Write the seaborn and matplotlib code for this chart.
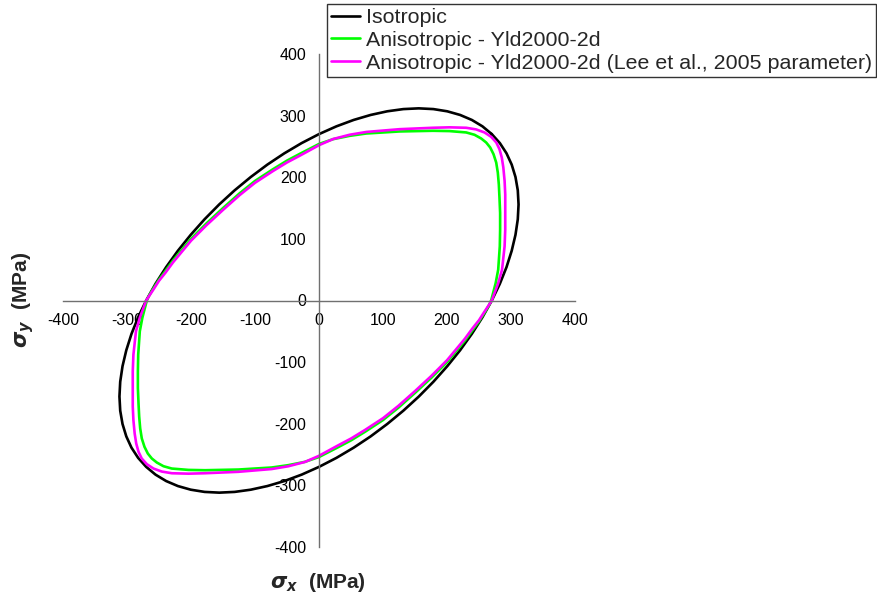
import matplotlib
matplotlib.use("Agg")
import matplotlib.pyplot as plt
import seaborn as sns

# Yield loci in the (sigma_x, sigma_y) plane, MPa
iso_x = [270, 255.4, 238.8, 220.5, 200.4, 178.8, 155.8, 131.8, 106.6, 80.7, 54.2, 27.2, 0,
         -27.2, -54.2, -80.7, -106.6, -131.8, -155.9, -178.8, -200.4, -220.5, -238.8, -255.4,
         -270, -282.6, -293.0, -301.1, -307.0, -310.6, -311.8, -310.6, -307.0, -301.1, -293.0,
         -282.6, -270, -255.4, -238.8, -220.5, -200.4, -178.8, -155.8, -131.8, -106.6, -80.7,
         -54.2, -27.2, 0, 27.2, 54.2, 80.7, 106.6, 131.8, 155.9, 178.8, 200.4, 220.5, 238.8,
         255.4, 270, 282.6, 293.0, 301.1, 307.0, 310.6, 311.8, 310.6, 307.0, 301.1, 293.0,
         282.6, 270]
iso_y = [270, 282.6, 293.0, 301.1, 307.0, 310.6, 311.8, 310.6, 307.0, 301.1, 293.0, 282.6, 270,
         255.4, 238.8, 220.5, 200.4, 178.8, 155.9, 131.8, 106.6, 80.7, 54.2, 27.2,
         0, -27.2, -54.2, -80.7, -106.6, -131.8, -155.8, -178.8, -200.4, -220.5, -238.8,
         -255.4, -270, -282.6, -293.0, -301.1, -307.0, -310.6, -311.8, -310.6, -307.0, -301.1,
         -293.0, -282.6, -270, -255.4, -238.8, -220.5, -200.4, -178.8, -155.9, -131.8, -106.6,
         -80.7, -54.2, -27.2, 0, 27.2, 54.2, 80.7, 106.6, 131.8, 155.8, 178.8, 200.4, 220.5,
         238.8, 255.4, 270]

yld_x = [269, 276, 280, 282.5, 283, 283, 282, 281, 279.4, 276.9, 272.7, 267.5, 261.2, 253.4,
         243, 230, 204, 178, 126, 74, 48, 22, 0, -30, -50, -72, -100, -124, -150, -176, -200,
         -228, -240, -250, -258, -265,
         -269, -276, -280, -282.5, -283, -283, -282, -281, -279.4, -276.9, -272.7, -267.5,
         -261.2, -253.4, -243, -230, -204, -178, -126, -74, -48, -22, 0, 30, 50, 72, 100,
         124, 150, 176, 200, 228, 240, 250, 258, 265, 269]
yld_y = [0, 28, 50, 88, 115, 142, 167, 188, 207.5, 223.8, 237.4, 248.3, 256.4, 262.9,
         268.9, 272.7, 274.9, 275.4, 274.3, 271, 267.2, 261.8, 254, 238, 227, 213, 194, 174,
         150, 125, 100, 65, 48, 34, 21, 9,
         0, -28, -50, -88, -115, -142, -167, -188, -207.5, -223.8, -237.4, -248.3, -256.4,
         -262.9, -268.9, -272.7, -274.9, -275.4, -274.3, -271, -267.2, -261.8, -254, -238,
         -227, -213, -194, -174, -150, -125, -100, -65, -48, -34, -21, -9, 0]

lee_x = [270, 280, 286, 290, 291, 291, 291, 290, 288, 285.6, 282, 277, 269, 258.6, 245.6,
         230, 204, 178, 126, 74, 48, 22, 0, -30, -50, -72, -100, -124, -150, -176, -200,
         -228, -240, -250, -258, -265,
         -270, -280, -286, -290, -291, -291, -291, -290, -288, -285.6, -282, -277, -269,
         -258.6, -245.6, -230, -204, -178, -126, -74, -48, -22, 0, 30, 50, 72, 100, 124,
         150, 176, 200, 228, 240, 250, 258, 265, 270]
lee_y = [0, 28, 50, 88, 115, 142, 172, 194, 216, 232, 245.5, 256.4, 265.6, 272.7, 277.6,
         280.3, 281, 280.3, 278, 273.5, 269, 262, 252, 235, 224, 210, 191, 171, 147, 122,
         97, 62, 45, 32, 19, 8,
         0, -28, -50, -88, -115, -142, -172, -194, -216, -232, -245.5, -256.4, -265.6,
         -272.7, -277.6, -280.3, -281, -280.3, -278, -273.5, -269, -262, -252, -235, -224,
         -210, -191, -171, -147, -122, -97, -62, -45, -32, -19, -8, 0]

labels = ["Isotropic",
          "Anisotropic - Yld2000-2d",
          "Anisotropic - Yld2000-2d (Lee et al., 2005 parameter)"]
colors = ["#000000", "#00FF00", "#FF00FF"]
ticks = [-400, -300, -200, -100, 0, 100, 200, 300, 400]

sns.set_style("white")
plt.rcParams["font.family"] = ["Liberation Sans", "DejaVu Sans"]
plt.rcParams["mathtext.fontset"] = "dejavusans"

fig = plt.figure(figsize=(8.78, 5.99), dpi=100)
ax = fig.add_axes([63 / 878, 1 - 547 / 599, 512 / 878, 493 / 599])

curves = [(iso_x, iso_y), (yld_x, yld_y), (lee_x, lee_y)]
handles = []
for (cx, cy), lab, col in zip(curves, labels, colors):
    sns.lineplot(x=cx, y=cy, sort=False, estimator=None, color=col, lw=1.9, ax=ax,
                 label=lab)
    line = ax.lines[-1]
    line.set_solid_joinstyle("round")
    handles.append(line)

ax.set_xlim(-400, 400)
ax.set_ylim(-400, 400)
ax.set_xticks(ticks)
ax.set_yticks(ticks)
ax.set_xticklabels([str(t) for t in ticks])
ax.set_yticklabels([str(t) for t in ticks])

spine_col = "#707070"
for side in ["top", "right"]:
    ax.spines[side].set_visible(False)
for side in ["left", "bottom"]:
    ax.spines[side].set_position(("data", 0))
    ax.spines[side].set_color(spine_col)
    ax.spines[side].set_linewidth(1.0)
ax.tick_params(axis="both", direction="out", length=3.5, width=1.0, color=spine_col,
               labelsize=11.5, labelcolor="black", pad=5.5)
ax.patch.set_alpha(0)
ax.legend_.remove()

fig.legend(handles, labels, loc="upper right", bbox_to_anchor=(876 / 878, 1 - 4 / 599),
           frameon=True, fancybox=False, shadow=False, edgecolor="black",
           fontsize=15.4, handlelength=1.35, handletextpad=0.25, labelspacing=0.17,
           borderpad=0.2, borderaxespad=0)
leg = fig.legends[0]
leg.get_frame().set_linewidth(1.0)

fig.text(318 / 878, 1 - 582 / 599, r"$\mathbfit{\sigma_x}$  (MPa)", ha="center", va="center",
         fontsize=15, fontweight="bold")
fig.text(23 / 878, 1 - 300 / 599, r"$\mathbfit{\sigma_y}$  (MPa)", ha="center", va="center",
         rotation=90, fontsize=15, fontweight="bold")

fig.savefig("out.png", dpi=100)
